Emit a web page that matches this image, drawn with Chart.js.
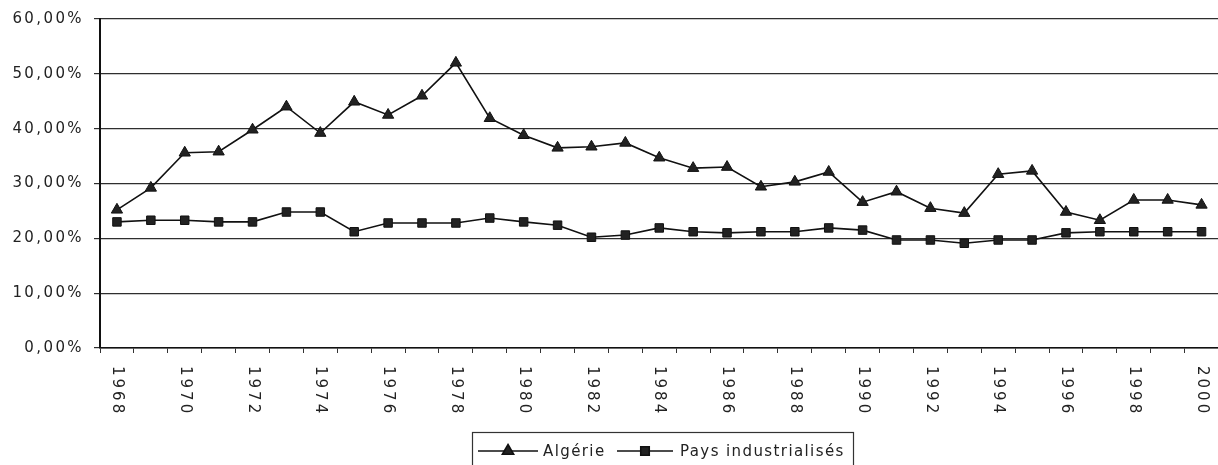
<!DOCTYPE html>
<html>
<head>
<meta charset="utf-8">
<script src="https://cdn.jsdelivr.net/npm/chart.js@4/dist/chart.umd.min.js"></script>
<style>
  html, body { margin: 0; padding: 0; background: #fff; overflow: hidden; }
  #wrap { width: 1226px; height: 465px; }
</style>
</head>
<body>
<div id="wrap"><canvas id="c" width="1226" height="465"></canvas></div>
<script>
const years = ['1968','1969','1970','1971','1972','1973','1974','1975','1976','1977','1978','1979','1980','1981','1982','1983','1984','1985','1986','1987','1988','1989','1990','1991','1992','1993','1994','1995','1996','1997','1998','1999','2000'];
const tickYears = ['1968','1970','1972','1974','1976','1978','1980','1982','1984','1986','1988','1990','1992','1994','1996','1998','2000'];
const algerie = [25.2,29.2,35.6,35.8,39.8,44.0,39.2,44.9,42.5,46.0,52.0,41.9,38.8,36.5,36.7,37.4,34.7,32.8,33.0,29.4,30.3,32.1,26.6,28.5,25.5,24.6,31.7,32.3,24.8,23.3,27.0,27.0,26.1];
const paysIndustrialises = [23.0,23.3,23.3,23.0,23.0,24.8,24.8,21.2,22.8,22.8,22.8,23.7,23.0,22.4,20.2,20.6,21.9,21.2,21.0,21.2,21.2,21.9,21.5,19.7,19.7,19.1,19.7,19.7,21.0,21.2,21.2,21.2,21.2];
const seriesNames = ['Algérie', 'Pays industrialisés'];

const FONT = 'DejaVu Sans';

const spacingPlugin = {
  id: 'spacing',
  beforeDraw(chart) {
    if ('letterSpacing' in chart.ctx) chart.ctx.letterSpacing = '2.4px';
  },
  afterDraw(chart) {
    if ('letterSpacing' in chart.ctx) chart.ctx.letterSpacing = '0px';
  }
};

const xLabelsPlugin = {
  id: 'xLabels',
  afterDraw(chart) {
    const ctx = chart.ctx;
    const xs = chart.scales.x;
    ctx.save();
    ctx.font = '15px "' + FONT + '"';
    ctx.fillStyle = '#222';
    if ('letterSpacing' in ctx) ctx.letterSpacing = '3px';
    ctx.textAlign = 'left';
    ctx.textBaseline = 'middle';
    tickYears.forEach(y => {
      const idx = years.indexOf(y);
      const px = xs.getPixelForValue(idx);
      ctx.save();
      ctx.translate(px, xs.top + 18);
      ctx.rotate(Math.PI / 2);
      ctx.fillText(y, 0, 0);
      ctx.restore();
    });
    ctx.restore();
  }
};

const legendPlugin = {
  id: 'boxLegend',
  afterDraw(chart) {
    const ctx = chart.ctx;
    ctx.save();
    ctx.strokeStyle = '#333';
    ctx.lineWidth = 1.2;
    ctx.strokeRect(472.5, 432.5, 381, 40);
    const cy = 451;
    ctx.font = '15px "' + FONT + '"';
    if ('letterSpacing' in ctx) ctx.letterSpacing = '1.4px';
    ctx.textBaseline = 'middle';
    ctx.textAlign = 'left';
    const items = [
      {ds: chart.data.datasets[0], x0: 478, x1: 538, tx: 543},
      {ds: chart.data.datasets[1], x0: 617, x1: 673, tx: 680}
    ];
    items.forEach(it => {
      ctx.strokeStyle = it.ds.borderColor;
      ctx.lineWidth = it.ds.borderWidth;
      ctx.beginPath();
      ctx.moveTo(it.x0, cy);
      ctx.lineTo(it.x1, cy);
      ctx.stroke();
      ctx.fillStyle = it.ds.pointBackgroundColor;
      ctx.strokeStyle = it.ds.pointBorderColor;
      Chart.helpers.drawPoint(ctx, {pointStyle: it.ds.pointStyle, radius: it.ds.pointRadius, borderWidth: 1, rotation: 0}, (it.x0 + it.x1) / 2, cy);
      ctx.fillStyle = '#222';
      ctx.fillText(it.ds.label, it.tx, cy + 1);
    });
    ctx.restore();
  }
};

new Chart(document.getElementById('c'), {
  type: 'line',
  data: {
    labels: years,
    datasets: [
      {
        label: seriesNames[0],
        data: algerie,
        borderColor: '#111',
        borderWidth: 1.6,
        pointStyle: 'triangle',
        pointRadius: 6.5,
        pointBackgroundColor: '#222',
        pointBorderColor: '#111',
        pointBorderWidth: 1,
        tension: 0
      },
      {
        label: seriesNames[1],
        data: paysIndustrialises,
        borderColor: '#111',
        borderWidth: 1.6,
        pointStyle: 'rect',
        pointRadius: 6,
        pointBackgroundColor: '#222',
        pointBorderColor: '#111',
        pointBorderWidth: 1,
        tension: 0
      }
    ]
  },
  options: {
    responsive: false,
    animation: false,
    devicePixelRatio: 1,
    layout: { padding: { top: 19, left: 0, right: 1, bottom: 37 } },
    plugins: {
      legend: { display: false },
      tooltip: { enabled: false }
    },
    scales: {
      x: {
        type: 'category',
        offset: true,
        afterFit(s) { s.height = 80; },
        grid: { display: true, drawOnChartArea: false, drawTicks: true, tickLength: 5, color: '#333', offset: true },
        border: { display: true, color: '#111', width: 1.5 },
        ticks: { display: false, autoSkip: false }
      },
      y: {
        min: 0,
        max: 60,
        afterFit(s) { s.width = 100; },
        grid: { color: '#2e2e2e', lineWidth: 1.2, tickLength: 6, drawTicks: true },
        border: { display: true, color: '#111', width: 2 },
        ticks: {
          stepSize: 10,
          padding: 10,
          color: '#222',
          font: { family: FONT, size: 15 },
          callback: v => v.toFixed(2).replace('.', ',') + '%'
        }
      }
    }
  },
  plugins: [spacingPlugin, xLabelsPlugin, legendPlugin]
});
</script>
</body>
</html>
